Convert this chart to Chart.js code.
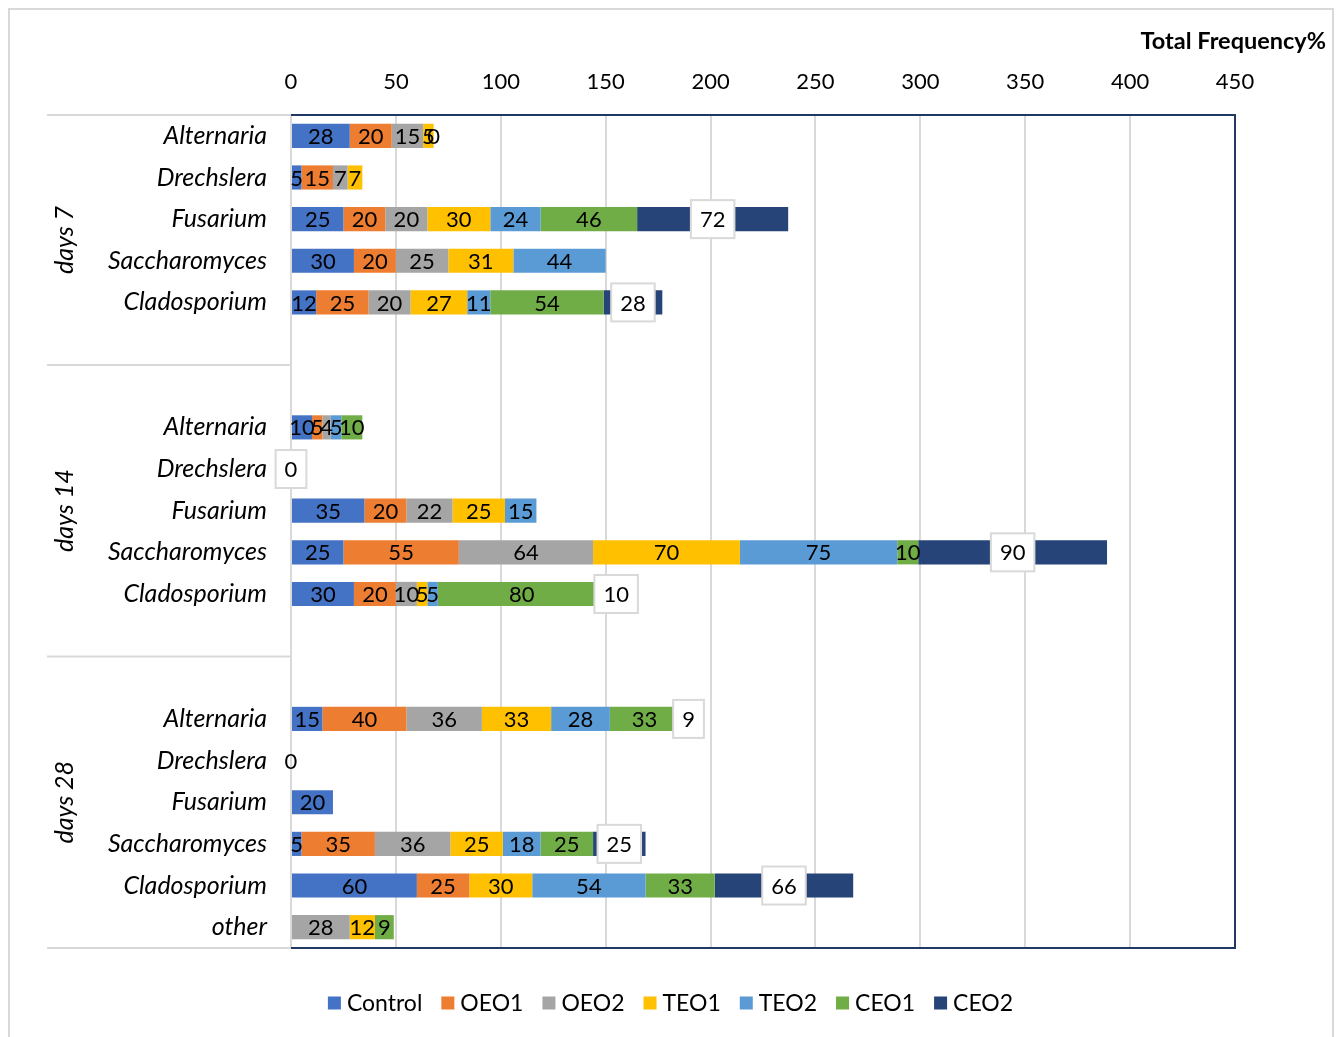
<!DOCTYPE html>
<html>
<head>
<meta charset="utf-8">
<title>Total Frequency%</title>
<script src="https://cdn.jsdelivr.net/npm/chart.js@4.4.1/dist/chart.umd.min.js"></script>
<style>
  html, body { margin: 0; padding: 0; background: #ffffff; }
  #wrap { width: 1341px; height: 1037px; position: relative; }
</style>
</head>
<body>
<div id="wrap"><canvas id="c" width="1341" height="1037"></canvas></div>
<script>
// Genus per row; empty strings are spacer rows between the sampling days
const categories = [
  'Alternaria', 'Drechslera', 'Fusarium', 'Saccharomyces', 'Cladosporium', '',
  '', 'Alternaria', 'Drechslera', 'Fusarium', 'Saccharomyces', 'Cladosporium', '',
  '', 'Alternaria', 'Drechslera', 'Fusarium', 'Saccharomyces', 'Cladosporium', 'other'
];

// Sampling-day groups (first and last row index of each)
const dayGroups = [
  { label: 'days 7',  from: 0,  to: 5 },
  { label: 'days 14', from: 6,  to: 12 },
  { label: 'days 28', from: 13, to: 19 }
];

const xTickValues = [0, 50, 100, 150, 200, 250, 300, 350, 400, 450];
const axisTitle = 'Total Frequency%';

const seriesNames  = ['Control', 'OEO1', 'OEO2', 'TEO1', 'TEO2', 'CEO1', 'CEO2'];
const seriesColors = ['#4472C4', '#ED7D31', '#A5A5A5', '#FFC000', '#5B9BD5', '#70AD47', '#264478'];

// Frequency (%) per treatment; null = not recorded
const control = [28, 5, 25, 30, 12, null, null, 10, null, 35, 25, 30, null, null, 15, 0, 20, 5, 60, null];
const oeo1    = [20, 15, 20, 20, 25, null, null, 5, null, 20, 55, 20, null, null, 40, null, null, 35, 25, null];
const oeo2    = [15, 7, 20, 25, 20, null, null, 4, null, 22, 64, 10, null, null, 36, null, null, 36, null, 28];
const teo1    = [5, 7, 30, 31, 27, null, null, null, null, 25, 70, 5, null, null, 33, null, null, 25, 30, 12];
const teo2    = [0, null, 24, 44, 11, null, null, 5, null, 15, 75, 5, null, null, 28, null, null, 18, 54, null];
const ceo1    = [null, null, 46, null, 54, null, null, 10, null, null, 10, 80, null, null, 33, null, null, 25, 33, 9];
const ceo2    = [null, null, 72, null, 28, null, null, null, 0, null, 90, 10, null, null, 9, null, null, 25, 66, null];

const seriesValues = [control, oeo1, oeo2, teo1, teo2, ceo1, ceo2];

const FONT = 'Lato, "Open Sans", "Liberation Sans", sans-serif';
const GRID = '#d9d9d9';
const NAVY = '#203864';

const datasets = seriesNames.map((name, i) => ({
  label: name,
  data: seriesValues[i],
  backgroundColor: seriesColors[i],
  borderWidth: 0,
  barPercentage: 0.58,
  categoryPercentage: 1.0,
  boxedLabels: name === 'CEO2'
}));

// Background and outer frame
const frame = {
  id: 'frame',
  beforeDraw(chart) {
    const ctx = chart.ctx;
    ctx.save();
    ctx.fillStyle = '#ffffff';
    ctx.fillRect(0, 0, chart.width, chart.height);
    ctx.strokeStyle = GRID;
    ctx.lineWidth = 2;
    ctx.strokeRect(9, 9, chart.width - 17, chart.height + 20);
    ctx.restore();
  }
};

// Value labels centred in each segment; CEO2 values sit in white callout boxes
const valueLabels = {
  id: 'valueLabels',
  afterDatasetsDraw(chart) {
    const ctx = chart.ctx;
    ctx.save();
    ctx.font = '22px ' + FONT;
    ctx.textAlign = 'center';
    ctx.textBaseline = 'middle';
    chart.data.datasets.forEach((ds, di) => {
      const meta = chart.getDatasetMeta(di);
      meta.data.forEach((el, i) => {
        const v = ds.data[i];
        if (v === null || v === undefined) return;
        const x = (el.x + el.base) / 2;
        const y = el.y;
        const txt = String(v);
        if (ds.boxedLabels) {
          const w = ctx.measureText(txt).width + 18;
          const h = 38;
          ctx.fillStyle = '#ffffff';
          ctx.fillRect(x - w / 2, y - h / 2, w, h);
          ctx.strokeStyle = GRID;
          ctx.lineWidth = 2;
          ctx.strokeRect(x - w / 2, y - h / 2, w, h);
        }
        ctx.fillStyle = '#000000';
        ctx.fillText(txt, x, y + 1);
      });
    });
    ctx.restore();
  }
};

// Plot border, day grouping, axis title and legend
const decorations = {
  id: 'decorations',
  afterDraw(chart) {
    const ctx = chart.ctx;
    const a = chart.chartArea;
    const yScale = chart.scales.y;
    const rowH = (a.bottom - a.top) / categories.length;
    ctx.save();

    // plot area border
    ctx.strokeStyle = NAVY;
    ctx.lineWidth = 2;
    ctx.beginPath();
    ctx.moveTo(a.left, a.top);
    ctx.lineTo(a.right, a.top);
    ctx.lineTo(a.right, a.bottom);
    ctx.lineTo(a.left, a.bottom);
    ctx.stroke();

    // group separators and rotated day labels
    ctx.strokeStyle = GRID;
    ctx.lineWidth = 2;
    const sepLeft = 47;
    dayGroups.forEach((g, gi) => {
      const top = yScale.getPixelForValue(g.from) - rowH / 2;
      const bottom = yScale.getPixelForValue(g.to) + rowH / 2;
      ctx.beginPath();
      ctx.moveTo(sepLeft, top);
      ctx.lineTo(a.left, top);
      if (gi === dayGroups.length - 1) {
        ctx.moveTo(sepLeft, bottom);
        ctx.lineTo(a.left, bottom);
      }
      ctx.stroke();

      ctx.save();
      ctx.translate(65, (top + bottom) / 2);
      ctx.rotate(-Math.PI / 2);
      ctx.font = 'italic 25px ' + FONT;
      ctx.fillStyle = '#000000';
      ctx.textAlign = 'center';
      ctx.textBaseline = 'middle';
      ctx.fillText(g.label, 0, 0);
      ctx.restore();
    });

    // axis title
    ctx.font = 'bold 23.5px ' + FONT;
    ctx.fillStyle = '#000000';
    ctx.textAlign = 'right';
    ctx.textBaseline = 'middle';
    ctx.fillText(axisTitle, 1326, 41);

    // legend
    ctx.font = '23px ' + FONT;
    const sq = 13, sqGap = 6, itemGap = 19;
    const widths = chart.data.datasets.map(d => sq + sqGap + ctx.measureText(d.label).width);
    const total = widths.reduce((s, w) => s + w, 0) + itemGap * (widths.length - 1);
    let lx = chart.width / 2 - total / 2;
    const ly = 1003;
    ctx.textAlign = 'left';
    chart.data.datasets.forEach((d, i) => {
      ctx.fillStyle = d.backgroundColor;
      ctx.fillRect(lx, ly - sq / 2, sq, sq);
      ctx.fillStyle = '#000000';
      ctx.fillText(d.label, lx + sq + sqGap, ly + 1);
      lx += widths[i] + itemGap;
    });

    ctx.restore();
  }
};

new Chart(document.getElementById('c'), {
  type: 'bar',
  data: { labels: categories, datasets },
  options: {
    indexAxis: 'y',
    responsive: false,
    devicePixelRatio: 1,
    animation: false,
    layout: { padding: { left: 0, top: 0, right: 106, bottom: 89 } },
    plugins: {
      legend: { display: false },
      tooltip: { enabled: false }
    },
    scales: {
      x: {
        position: 'top',
        stacked: true,
        min: 0,
        max: 450,
        afterBuildTicks(scale) { scale.ticks = xTickValues.map(v => ({ value: v })); },
        afterFit(scale) { scale.height = 115; },
        ticks: { font: { family: FONT, size: 22 }, color: '#000000', padding: 20 },
        grid: { color: GRID, lineWidth: 2, drawTicks: false },
        border: { display: false }
      },
      y: {
        stacked: true,
        afterFit(scale) { scale.width = 291; },
        ticks: { font: { family: FONT, size: 25, style: 'italic' }, color: '#000000', padding: 24, autoSkip: false },
        grid: { display: false, drawTicks: false },
        border: { display: true, color: GRID, width: 2 }
      }
    }
  },
  plugins: [frame, valueLabels, decorations]
});
</script>
</body>
</html>
